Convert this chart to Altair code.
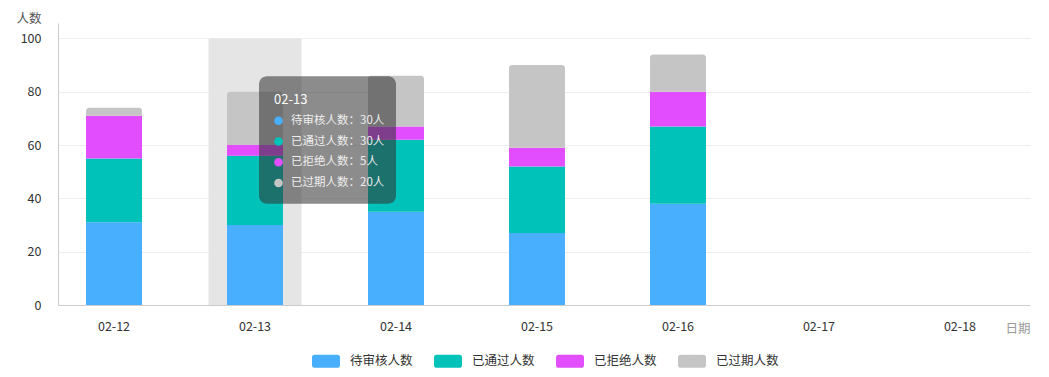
import altair as alt
import pandas as pd

# ---- data ----
dates = ["02-12", "02-13", "02-14", "02-15", "02-16", "02-17", "02-18"]
series = ["待审核人数", "已通过人数", "已拒绝人数", "已过期人数"]
pending = [31, 30, 35, 27, 38]
approved = [24, 26, 27, 25, 29]
rejected = [16, 4, 5, 7, 13]
expired = [3, 20, 19, 31, 14]
tip_date = "02-13"
tip_values = [30, 30, 5, 20]
y_ticks = [0, 20, 40, 60, 80, 100]

# ---- style ----
colors = ["#48aefe", "#00c2b9", "#e24efd", "#c5c5c5"]
FONT = "Noto Sans CJK SC"

rows = []
for i, d in enumerate(dates[:len(pending)]):
    for k, vals in enumerate([pending, approved, rejected, expired]):
        rows.append({"date": d, "series": series[k], "order": k, "value": vals[i]})
df = pd.DataFrame(rows)

x_enc = alt.X(
    "date:N",
    scale=alt.Scale(domain=dates, paddingInner=0.603, paddingOuter=0.2485, align=0.4),
    sort=None,
    axis=alt.Axis(
        title="日期", titleX=947, titleY=23, titleAlign="left", titleBaseline="middle",
        titleColor="#999999", titleFontWeight="normal", titleFontSize=12.5, titleFont=FONT,
        labelAngle=0, labelPadding=15, labelFontSize=12.5, labelColor="#333333", labelFont=FONT,
        ticks=False, domainColor="#cccccc", grid=False,
    ),
)
y_scale = alt.Scale(domain=[0, 105.8], nice=False, zero=True)
y_axis = alt.Axis(
    values=y_ticks, title="人数", titleAngle=0, titleX=-42, titleY=-5, titleAlign="left",
    titleBaseline="middle", titleColor="#555555", titleFontWeight="normal", titleFontSize=12.5,
    titleFont=FONT, labelPadding=17, labelFontSize=12.5, labelColor="#333333", labelFont=FONT,
    ticks=False, domainColor="#cccccc", gridColor="#eeeeee",
)
color_enc = alt.Color(
    "series:N",
    scale=alt.Scale(domain=series, range=colors),
    sort=series,
    legend=alt.Legend(
        title=None, orient="none", direction="horizontal", columns=4, legendX=254, legendY=324,
        symbolType="M-0.8,-0.46L0.8,-0.46Q1,-0.46 1,-0.26L1,0.26Q1,0.46 0.8,0.46L-0.8,0.46Q-1,0.46 -1,0.26L-1,-0.26Q-1,-0.46 -0.8,-0.46Z",
        symbolSize=784, symbolStrokeWidth=0, symbolOpacity=1, labelOffset=10, columnPadding=21,
        labelFontSize=12.5, labelColor="#333333", labelFont=FONT,
    ),
)

shadow_df = pd.DataFrame({"date": [tip_date], "lo": [y_ticks[0]], "hi": [y_ticks[-1]]})
shadow = alt.Chart(shadow_df).mark_bar(size=93, color="#e5e5e5").encode(
    x=x_enc, y=alt.Y("hi:Q", scale=y_scale, axis=y_axis), y2="lo:Q"
)

base = alt.Chart(df).transform_stack(
    stack="value", groupby=["date"], as_=["y0", "y1"], sort=[alt.SortField("order", order="ascending")]
)
enc = dict(x=x_enc, y=alt.Y("y1:Q", scale=y_scale, axis=y_axis), y2="y0:Q", color=color_enc)
bars_low = base.transform_filter("datum.order < 3").mark_bar().encode(**enc)
bars_top = base.transform_filter("datum.order == 3").mark_bar(
    cornerRadiusTopLeft=3, cornerRadiusTopRight=3
).encode(**enc)

main = alt.layer(shadow, bars_low, bars_top)

# ---- tooltip overlay ----
tip_df = pd.DataFrame({
    "date": [tip_date] * len(series),
    "series": series,
    "row": list(range(1, len(series) + 1)),
    "label": [f"{s}：{v}人" for s, v in zip(series, tip_values)],
})
row_scale = alt.Scale(domain=[0, 4], range=[77, 160], nice=False, zero=False)
box_df = pd.DataFrame({"date": [tip_date], "top": [-1.15], "bottom": [5.0], "row": [0], "label": [tip_date]})

tip_box = alt.Chart(box_df).mark_bar(
    size=137, xOffset=72.5, cornerRadius=8, color="rgba(50,50,50,0.56)"
).encode(x=x_enc, y=alt.Y("top:Q", scale=row_scale, axis=None), y2="bottom:Q")
tip_head = alt.Chart(box_df).mark_text(
    align="left", baseline="middle", dx=19, fontSize=13, color="#ffffff", font=FONT
).encode(x=x_enc, y=alt.Y("row:Q", scale=row_scale, axis=None), text="label:N")
tip_dots = alt.Chart(tip_df).mark_circle(size=75, opacity=1, xOffset=23.5).encode(
    x=x_enc, y=alt.Y("row:Q", scale=row_scale, axis=None), color=color_enc
)
tip_text = alt.Chart(tip_df).mark_text(
    align="left", baseline="middle", dx=36, fontSize=11.5, color="#eeeeee", font=FONT
).encode(x=x_enc, y=alt.Y("row:Q", scale=row_scale, axis=None), text="label:N")

tip = alt.layer(tip_box, tip_head, tip_dots, tip_text)

chart = alt.layer(main, tip).resolve_scale(y="independent").properties(
    width=972, height=282,
    background="white",
    autosize=alt.AutoSizeParams(type="none"),
    padding={"left": 58, "top": 23, "right": 19, "bottom": 72},
).configure(font=FONT).configure_view(stroke=None, strokeWidth=0)

chart.save("out.html", embed_options={"renderer": "svg", "actions": False})
